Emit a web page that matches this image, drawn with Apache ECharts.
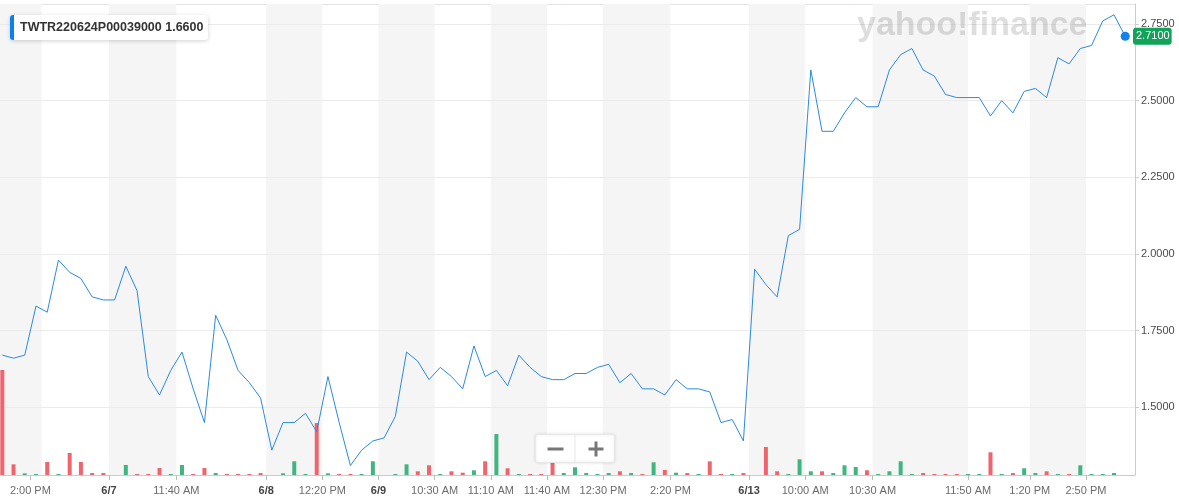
<!DOCTYPE html>
<html>
<head>
<meta charset="utf-8">
<script src="https://cdn.jsdelivr.net/npm/echarts@6/dist/echarts.min.js"></script>
<style>
html,body{margin:0;padding:0;background:#fff;}
#chart{width:1179px;height:504px;}
</style>
</head>
<body>
<div id="chart"></div>
<script>
// ---- data ----
const prices = [
  1.67,1.66,1.67,1.83,1.81,1.98,1.94,1.92,1.86,1.85,
  1.85,1.96,1.88,1.60,1.54,1.62,1.68,1.56,1.45,1.80,
  1.72,1.62,1.58,1.53,1.36,1.45,1.45,1.48,1.42,1.60,
  1.45,1.31,1.36,1.39,1.40,1.47,1.68,1.65,1.59,1.63,
  1.60,1.56,1.70,1.60,1.62,1.57,1.67,1.63,1.60,1.59,
  1.59,1.61,1.61,1.63,1.64,1.58,1.61,1.56,1.56,1.54,
  1.59,1.56,1.56,1.55,1.45,1.46,1.39,1.95,1.90,1.86,
  2.06,2.08,2.60,2.40,2.40,2.46,2.51,2.48,2.48,2.60,
  2.65,2.67,2.60,2.58,2.52,2.51,2.51,2.51,2.45,2.50,
  2.46,2.53,2.54,2.51,2.64,2.62,2.67,2.68,2.76,2.78,
  2.71
];
const prevPrice = 1.68; // last price before the first visible point
const volumes = [
  1050,107,17,10,130,10,220,130,20,20,
  0,100,10,10,70,10,100,10,70,20,
  10,10,10,20,0,17,137,10,520,17,
  10,10,10,137,0,10,107,37,97,10,
  37,23,47,137,410,67,10,10,10,137,
  20,77,20,10,20,37,20,10,127,50,
  23,20,10,137,10,10,20,0,280,37,
  10,157,37,37,20,97,80,47,10,37,
  137,10,20,10,10,10,10,10,227,10,
  20,67,20,37,10,10,97,10,10,20,
  0
];
const tickPositions = [2.5, 9.5, 15.5, 23.5, 28.5, 33.5, 38.5, 43.5, 48.5, 53.5, 59.5, 66.5, 71.5, 77.5, 86, 91.5, 96.5];
const tickLabels = ['2:00 PM','6/7','11:40 AM','6/8','12:20 PM','6/9','10:30 AM','11:10 AM','11:40 AM','12:30 PM','2:20 PM','6/13','10:00 AM','10:30 AM','11:50 AM','1:20 PM','2:50 PM'];
const dateLabels = ['6/7','6/8','6/9','6/13'];
const X_MIN = -0.205, X_MAX = 100.87;
const bandRanges = [[X_MIN, 3.5],[9.5,15.5],[23.5,28.5],[33.5,38.5],[43.5,48.5],[53.5,59.5],[66.5,71.5],[77.5,86],[91.5,96.5]];
const yTicks = [1.5, 1.75, 2.0, 2.25, 2.5, 2.75];
const symbolName = 'TWTR220624P00039000';
const symbolValue = '1.6600';
const lastPrice = prices[prices.length - 1];

// ---- build ----
const UP = '#3fb57f', DOWN = '#f0646e', LINE = '#2b8ae3';
const linePoints = prices.map((p, i) => [i, p]);
const volPoints = volumes.map((v, i) => {
  const prev = i === 0 ? prevPrice : prices[i - 1];
  return { value: [i, v], itemStyle: { color: prices[i] >= prev ? UP : DOWN } };
});
const labelMap = {};
tickPositions.forEach((t, k) => { labelMap[t] = tickLabels[k]; });

const chart = echarts.init(document.getElementById('chart'), null, { renderer: 'canvas' });
const option = {
  animation: false,
  backgroundColor: '#ffffff',
  grid: { left: 0, right: 44, top: 4, bottom: 29, containLabel: false },
  xAxis: [{
    type: 'value', min: X_MIN, max: X_MAX, z: 1.5,
    axisLine: { show: true, onZero: false, lineStyle: { color: '#cccccc', width: 1 } },
    axisTick: { show: true, length: 5, lineStyle: { color: '#bbbbbb' }, customValues: tickPositions },
    splitLine: { show: false },
    axisLabel: {
      customValues: tickPositions, margin: 10,
      fontFamily: 'Liberation Sans, Arial, sans-serif', fontSize: 11, color: '#6b6b6b',
      formatter: function (v) {
        const key = Object.keys(labelMap).find(k => Math.abs(+k - v) < 1e-6);
        const t = key !== undefined ? labelMap[key] : '';
        return dateLabels.indexOf(t) >= 0 ? '{d|' + t + '}' : t;
      },
      rich: { d: { fontFamily: 'Liberation Sans, Arial, sans-serif', fontSize: 11, fontWeight: 'bold', color: '#444444' } }
    }
  }, {
    type: 'value', position: 'top', min: X_MIN, max: X_MAX,
    axisLine: { show: true, onZero: false, lineStyle: { color: '#e3e3e3' } },
    axisTick: { show: false }, axisLabel: { show: false }, splitLine: { show: false }
  }],
  yAxis: [{
    type: 'value', position: 'right', min: 1.279, max: 2.8152, z: 1.5,
    axisLine: { show: true, onZero: false, lineStyle: { color: '#cccccc' } },
    axisTick: { show: true, length: 4, inside: false, lineStyle: { color: '#cccccc' }, customValues: yTicks },
    axisLabel: {
      customValues: yTicks, margin: 6, inside: false,
      fontFamily: 'Liberation Sans, Arial, sans-serif', fontSize: 11, color: '#4a4a4a',
      formatter: v => v.toFixed(4)
    },
    splitLine: { show: true, lineStyle: { color: '#ebebeb', width: 1 } }
  }, {
    type: 'value', min: 0, max: 4710, show: false, position: 'right',
    axisLine: { show: false, onZero: false }, axisTick: { show: false }, axisLabel: { show: false },
    splitLine: { show: false }
  }],
  series: [{
    name: 'volume', type: 'bar', xAxisIndex: 0, yAxisIndex: 1,
    barWidth: 4, data: volPoints, z: 2,
    markArea: {
      silent: true, z: 1,
      itemStyle: { color: '#f5f5f5', borderWidth: 0 },
      data: bandRanges.map(r => [{ xAxis: r[0] }, { xAxis: r[1] }])
    }
  }, {
    name: 'price', type: 'line', xAxisIndex: 0, yAxisIndex: 0, z: 3,
    data: linePoints, showSymbol: false, symbol: 'none',
    lineStyle: { color: LINE, width: 1 },
    markPoint: {
      symbol: 'circle', symbolSize: 9, silent: true,
      itemStyle: { color: '#1183f0' }, label: { show: false },
      data: [{ coord: [prices.length - 1, lastPrice] }]
    },
    markLine: {
      silent: true, symbol: ['none', 'none'], z: 8,
      lineStyle: { color: 'rgba(0,0,0,0)', width: 0, type: 'solid' },
      label: {
        show: true, position: 'end', distance: -2,
        formatter: lastPrice.toFixed(4),
        backgroundColor: '#12a35b', color: '#ffffff', borderRadius: 3,
        padding: [3, 2, 3, 3], fontSize: 11,
        fontFamily: 'Liberation Sans, Arial, sans-serif'
      },
      emphasis: { disabled: true },
      data: [{ yAxis: lastPrice }]
    }
  }],
  graphic: [
    {
      type: 'text', left: 857, top: 9, z: 1.8, silent: true,
      style: { text: 'yahoo!finance', font: 'bold 34px "Liberation Sans", Arial, sans-serif', fill: 'rgba(0,0,0,0.13)' }
    },
    {
      type: 'group', left: 10, top: 15,
      children: [
        { type: 'rect', z: 20, shape: { x: 0, y: 0, width: 198, height: 25, r: 3 },
          style: { fill: '#ffffff', shadowBlur: 4, shadowColor: 'rgba(0,0,0,0.18)', shadowOffsetY: 1 } },
        { type: 'rect', z: 21, shape: { x: 0, y: 0, width: 4, height: 25, r: [3, 0, 0, 3] }, style: { fill: '#0a7ff0' } },
        { type: 'text', z: 21, x: 10, y: 13, style: { text: symbolName + ' ' + symbolValue, font: 'bold 12.5px "Liberation Sans", Arial, sans-serif', fill: '#333333', verticalAlign: 'middle' } }
      ]
    },
    {
      type: 'group', left: 535, top: 432,
      children: [
        { type: 'rect', z: 20, shape: { x: 0, y: 0, width: 79, height: 28, r: 2 },
          style: { fill: '#ffffff', stroke: '#e8e8e8', lineWidth: 1, shadowBlur: 3, shadowColor: 'rgba(0,0,0,0.12)' } },
        { type: 'line', z: 21, shape: { x1: 39.5, y1: 0, x2: 39.5, y2: 28 }, style: { stroke: '#e6e6e6', lineWidth: 1 } },
        { type: 'rect', z: 21, shape: { x: 12, y: 13, width: 16, height: 3 }, style: { fill: '#777777' } },
        { type: 'rect', z: 21, shape: { x: 53, y: 13, width: 15, height: 3 }, style: { fill: '#777777' } },
        { type: 'rect', z: 21, shape: { x: 59, y: 7, width: 3, height: 15 }, style: { fill: '#777777' } }
      ]
    }
  ]
};
chart.setOption(option);
</script>
</body>
</html>
